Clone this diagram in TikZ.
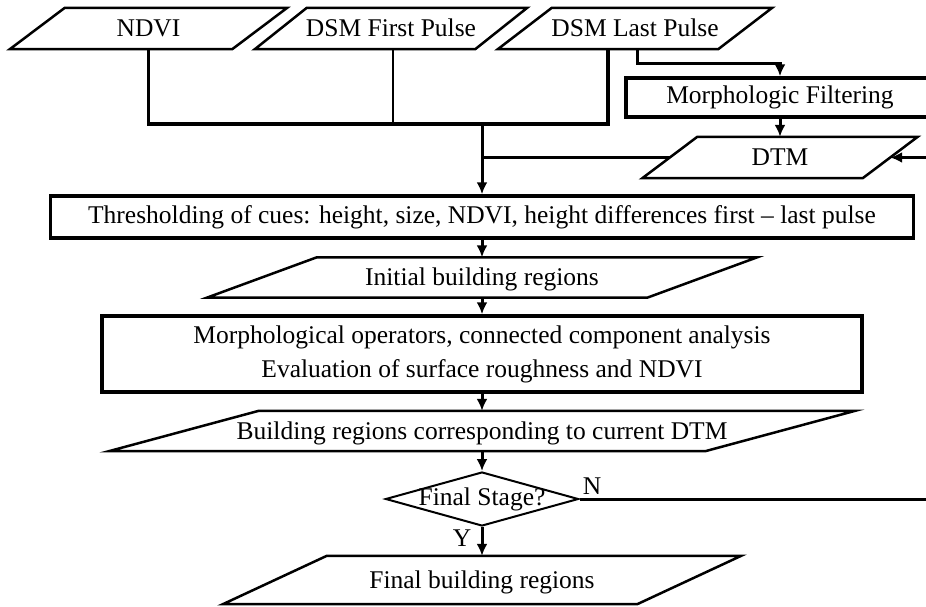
\documentclass[tikz,border=0pt]{standalone}
\usepackage{fontspec}
\setmainfont{Liberation Serif}
\usetikzlibrary{shapes.geometric,arrows.meta,calc}

\newcommand{\paraframe}[2]{%
    \draw[style para line] ([xshift=#2]#1.north west) -- ([xshift=#2]#1.north east)
        -- ([xshift=-#2]#1.south east) -- ([xshift=-#2]#1.south west) -- cycle;}

\begin{document}
\begin{tikzpicture}[x=1pt,y=-1pt]
        \tikzset{
            every node/.style={font=\fontsize{25.5}{34}\selectfont},
            style para/.style={inner sep=0pt,minimum height=41pt,text height=18pt,text depth=2pt},
            style para line/.style={line width=2.5pt,line join=miter},
            style box/.style={draw,line width=3.5pt,inner sep=0pt},
            style link/.style={line width=3.5pt},
            style thin link/.style={line width=2pt},
            style arrow/.style={line width=3pt,-{Latex[length=12pt,width=11pt]}}
        };
        \useasboundingbox (0,0) rectangle (926,606);

        % inputs
        \node[style para,minimum width=222pt] (ndvi) at (148.5,28.5) {NDVI};
        \node[style para,minimum width=220pt] (first) at (391,28.5) {DSM First Pulse};
        \node[style para,minimum width=220pt] (last) at (635,28.5) {DSM Last Pulse};
        \paraframe{ndvi}{27.5pt}
        \paraframe{first}{26pt}
        \paraframe{last}{27pt}

        \node[style box,minimum width=308pt,minimum height=39pt] (filter) at (780,97.5) {Morphologic Filtering};
        \node[style para,minimum width=220pt] (dtm) at (780,157.5) {DTM};
        \paraframe{dtm}{27.5pt}

        % main column
        \node[style box,minimum width=863pt,minimum height=42pt] (thresh) at (482,217)
            {Thresholding of cues: height, size, NDVI, height differences first -- last pulse};
        \node[style para,minimum width=440pt,minimum height=40pt] (initial) at (482,277.5) {Initial building regions};
        \paraframe{initial}{55pt}
        \node[style box,minimum width=760pt,minimum height=76pt,align=center] (morph) at (482,354)
            {Morphological operators, connected component analysis\\Evaluation of surface roughness and NDVI};
        \node[style para,minimum width=596pt,minimum height=40pt] (current) at (482,431) {Building regions corresponding to current DTM};
        \paraframe{current}{75pt}
        \node[diamond,draw,line width=2pt,inner sep=0pt,minimum width=193pt,minimum height=54pt] (stage) at (482,499)
            {\makebox[0pt]{Final Stage?}};
        \node[style para,minimum width=414pt,minimum height=48pt] (final) at (482,580) {Final building regions};
        \paraframe{final}{52pt}

        \node (yes) at (462,538) {Y};
        \node (no) at (592,486) {N};

        % connectors
        \coordinate (merge) at (482,124);
        \coordinate (back) at (945,499);
        \draw[style link] (ndvi.south) |- (merge) -| ([xshift=-27pt]last.south);
        \draw[style thin link] ([xshift=2pt]first.south) -- ([xshift=2pt]first.south |- merge);
        \draw[style link] (dtm.west) -- (dtm.west -| merge);
        \draw[style arrow] (merge) -- (thresh.north);
        \draw[style arrow] ([xshift=2pt]last.south) -- ++(0,14) -| (filter.north);
        \draw[style arrow] (filter.south) -- (dtm.north);
        \draw[style arrow] (thresh.south) -- (initial.north);
        \draw[style arrow] (initial.south) -- (morph.north);
        \draw[style arrow] (morph.south) -- (current.north);
        \draw[style arrow] (current.south) -- (stage.north);
        \draw[style arrow] (stage.south) -- (final.north);
        \draw[style arrow] (stage.east) -- (back) |- (dtm.east);
\end{tikzpicture}
\end{document}
